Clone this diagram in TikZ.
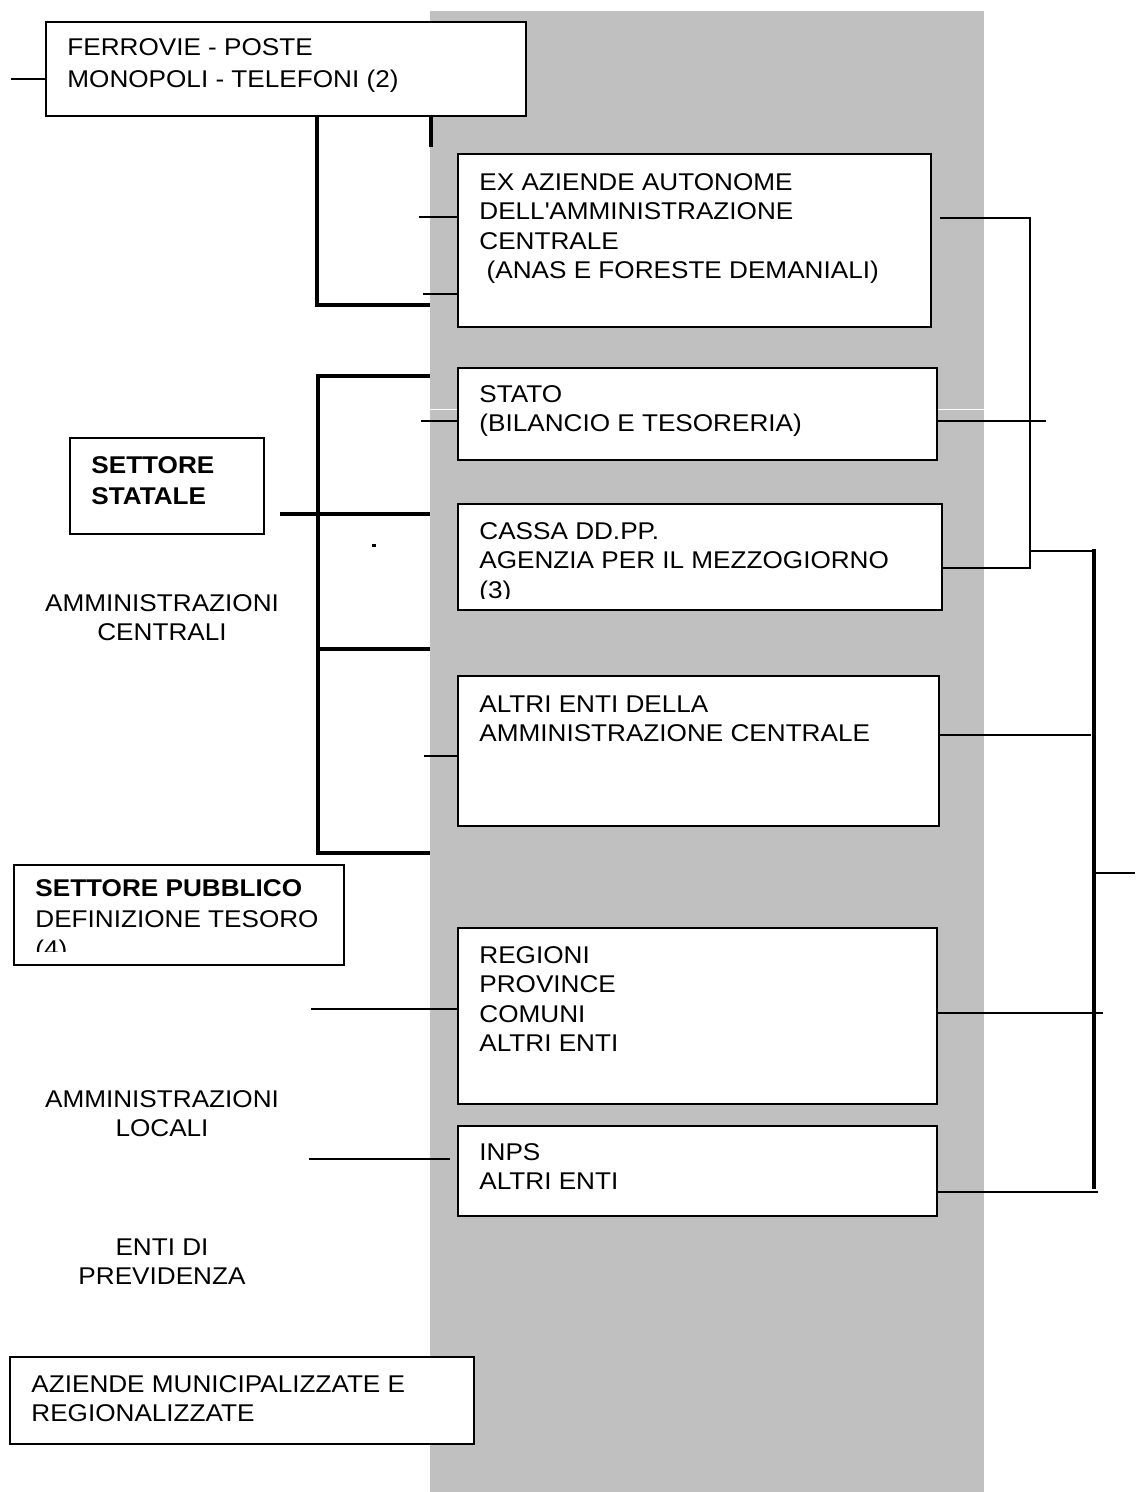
\documentclass[tikz,border=0pt]{standalone}
\usepackage{fontspec}
\setmainfont{Liberation Sans}[FakeStretch=1.08]
\usetikzlibrary{calc}
\definecolor{bandgray}{RGB}{192,192,192}
\newcommand\boxfont{\fontsize{12.1}{14.75}\selectfont}

\tikzset{
  box/.style={draw, line width=1pt, fill=white, inner sep=0pt, anchor=north west},
  txt/.style={font=\boxfont, align=left, inner sep=0pt, anchor=north west},
  side/.style={font=\boxfont, align=center, inner sep=0pt, anchor=north},
  link/.style={line width=0.85pt},
  bar/.style={line width=1.6pt},
  spine/.style={line width=2.2pt},
}

\begin{document}
\begin{tikzpicture}[x=0.5pt, y=-0.5pt]
\useasboundingbox (0,0) rectangle (1135,1492);

% ---- grey band behind the central column ----
\node[fill=bandgray, inner sep=0pt, anchor=north west,
      minimum width=277pt, minimum height=740.5pt] (band) at (430,11) {};
\coordinate (seam) at (430,409);
\draw[white, line width=0.5pt] (seam) -- (seam -| band.east);

% ---- boxes of the central column ----
\node[box, minimum width=240pt, minimum height=47pt] (ferr) at (45,21) {};
\node[txt] (ferr-t) at ([shift={(22,17)}]ferr.north west)
  {FERROVIE - POSTE\\[1.5pt]MONOPOLI - TELEFONI (2)};

\node[box, minimum width=236.5pt, minimum height=86.5pt] (ex) at (457,153) {};
\node[txt] (ex-t) at ([shift={(22,20)}]ex.north west)
  {EX AZIENDE AUTONOME\\DELL\textquotesingle AMMINISTRAZIONE\\CENTRALE\\\ (ANAS E FORESTE DEMANIALI)};

\node[box, minimum width=239.5pt, minimum height=46pt] (stato) at (457,367) {};
\node[txt] (stato-t) at ([shift={(22,18)}]stato.north west)
  {STATO\\(BILANCIO E TESORERIA)};

\node[box, minimum width=242pt, minimum height=53pt] (cassa) at (457,503) {};
\begin{scope}
  \clip (cassa.north west) rectangle (941,598);
  \node[txt] (cassa-t) at ([shift={(22,19)}]cassa.north west)
    {CASSA DD.PP.\\AGENZIA PER IL MEZZOGIORNO\\(3)};
\end{scope}

\node[box, minimum width=240.5pt, minimum height=75pt] (altri) at (457,675) {};
\node[txt] (altri-t) at ([shift={(22,20)}]altri.north west)
  {ALTRI ENTI DELLA\\AMMINISTRAZIONE CENTRALE};

\node[box, minimum width=239.5pt, minimum height=88pt] (reg) at (457,927) {};
\node[txt] (reg-t) at ([shift={(22,19)}]reg.north west)
  {REGIONI\\PROVINCE\\COMUNI\\ALTRI ENTI};

\node[box, minimum width=239.5pt, minimum height=45pt] (inps) at (457,1125) {};
\node[txt] (inps-t) at ([shift={(22,18)}]inps.north west)
  {INPS\\ALTRI ENTI};

% ---- boxes on the left ----
\node[box, minimum width=97pt, minimum height=48pt] (stat) at (69,437) {};
\node[txt, font=\boxfont\bfseries] (stat-t) at ([shift={(22,19)}]stat.north west)
  {SETTORE\\[1pt]STATALE};

\node[box, minimum width=165pt, minimum height=50pt] (pub) at (13,864) {};
\begin{scope}
  \clip (pub.north west) rectangle (343,951);
  \node[txt] (pub-t) at ([shift={(22,15)}]pub.north west)
    {\bfseries SETTORE PUBBLICO\\[1pt]DEFINIZIONE TESORO\\(4)};
\end{scope}

\node[box, minimum width=232pt, minimum height=43.5pt] (muni) at (9,1356) {};
\node[txt] (muni-t) at ([shift={(22,19)}]muni.north west)
  {AZIENDE MUNICIPALIZZATE E\\REGIONALIZZATE};

% ---- free labels ----
\node[side] (amm-c) at (162,594) {AMMINISTRAZIONI\\CENTRALI};
\node[side] (amm-l) at (162,1090) {AMMINISTRAZIONI\\LOCALI};
\node[side] (prev) at (162,1238) {ENTI DI\\PREVIDENZA};
\fill (372,544) rectangle (376,547);

% ---- connectors around the top box ----
\coordinate (ferr-in) at (11,79);
\draw[link] (ferr-in) -- (ferr-in -| ferr.west);
\coordinate (ferr-knee) at (317,305);
\draw[bar] (ferr-knee |- ferr.south) -- (ferr-knee) -- (ferr-knee -| band.west);
\coordinate (ferr-tick) at (431,147);
\draw[bar] (ferr-tick |- ferr.south) -- (ferr-tick);

\coordinate (ex-in1) at (419,217);
\draw[link] (ex-in1) -- (ex-in1 -| ex.west);
\coordinate (ex-in2) at (423,294);
\draw[link] (ex-in2) -- (ex-in2 -| ex.west);

% ---- left bracket ----
\coordinate (lb-top) at (318,376);
\coordinate (lb-bot) at (318,853);
\draw[bar] (lb-top -| band.west) -- (lb-top) -- (lb-bot) -- (lb-bot -| band.west);
\coordinate (stat-out) at (280,514);
\draw[bar] (stat-out) -- (stat-out -| band.west);
\coordinate (lb-mid) at (318,649);
\draw[bar] (lb-mid) -- (lb-mid -| band.west);

\coordinate (stato-in) at (421,421);
\draw[link] (stato-in) -- (stato-in -| stato.west);
\coordinate (altri-in) at (424,756);
\draw[link] (altri-in) -- (altri-in -| altri.west);
\coordinate (reg-in) at (311,1009);
\draw[link] (reg-in) -- (reg-in -| reg.west);
\coordinate (inps-in) at (309,1159);
\coordinate (inps-end) at (450,1159);
\draw[link] (inps-in) -- (inps-end);

% ---- right bracket and spine ----
\coordinate (ex-out) at (940,218);
\coordinate (rb-top) at (1030,218);
\coordinate (rb-bot) at (1030,568);
\draw[link] (ex-out) -- (rb-top) -- (rb-bot) -- (rb-bot -| cassa.east);
\coordinate (rb-mid) at (1030,551);
\coordinate (spine-top) at (1094,549);
\coordinate (spine-bot) at (1094,1189);
\draw[link] (rb-mid) -- (rb-mid -| spine-top);
\draw[spine] (spine-top) -- (spine-bot);
\coordinate (spine-out) at (1135,873);
\draw[link] (spine-out -| spine-top) -- (spine-out);

\coordinate (stato-out) at (1046,421);
\draw[link] (stato-out -| stato.east) -- (stato-out);
\coordinate (altri-out) at (1091,735);
\draw[link] (altri-out -| altri.east) -- (altri-out);
\coordinate (reg-out) at (1103,1013);
\draw[link] (reg-out -| reg.east) -- (reg-out);
\coordinate (inps-out) at (1098,1192);
\draw[link] (inps-out -| inps.east) -- (inps-out);

\end{tikzpicture}
\end{document}
